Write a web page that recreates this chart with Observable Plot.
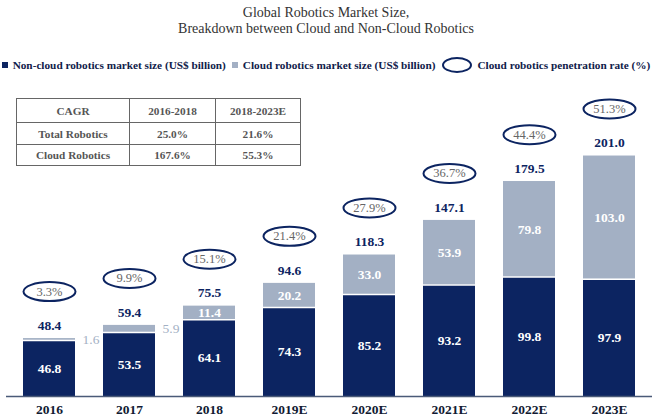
<!DOCTYPE html>
<html>
<head>
<meta charset="utf-8">
<script src="https://cdn.jsdelivr.net/npm/d3@7"></script>
<script src="https://cdn.jsdelivr.net/npm/@observablehq/plot@0.6"></script>
<style>
  html, body { margin: 0; padding: 0; background: #fff; }
  body { width: 652px; height: 418px; overflow: hidden; position: relative; font-family: "Liberation Serif", serif; }
  #title { position: absolute; left: 0; top: 5px; width: 652px; text-align: center; font-family: "Liberation Serif", serif; font-size: 14px; line-height: 16px; color: #333; }
  #legend { position: absolute; left: 0; top: 56px; width: 652px; display: flex; align-items: center; justify-content: center; font-family: "Liberation Serif", serif; font-size: 11.25px; font-weight: bold; color: #10204a; white-space: nowrap; }
  #legend .sw { display: inline-block; width: 6px; height: 6px; margin-right: 5px; }
  #legend .item { display: flex; align-items: center; margin: 0 3px; }
  #chart { position: absolute; left: 0; top: 80px; }
  #cagr { position: absolute; left: 16px; top: 98px; border-collapse: collapse; font-family: "Liberation Serif", serif; font-size: 11.25px; font-weight: bold; color: #555; }
  #cagr td { border: 1px solid #666; text-align: center; padding: 0; font-family: "Liberation Serif", serif; }
</style>
</head>
<body>
<div id="title"></div>
<div id="legend"></div>
<div id="chart"></div>
<table id="cagr"></table>
<script>
const years = ["2016", "2017", "2018", "2019E", "2020E", "2021E", "2022E", "2023E"];
const nonCloud = [46.8, 53.5, 64.1, 74.3, 85.2, 93.2, 99.8, 97.9];
const cloud = [1.6, 5.9, 11.4, 20.2, 33.0, 53.9, 79.8, 103.0];
const totals = [48.4, 59.4, 75.5, 94.6, 118.3, 147.1, 179.5, 201.0];
const penetration = [3.3, 9.9, 15.1, 21.4, 27.9, 36.7, 44.4, 51.3];
const titleLines = ["Global Robotics Market Size,", "Breakdown between Cloud and Non-Cloud Robotics"];
const legendLabels = ["Non-cloud robotics market size (US$ billion)", "Cloud robotics market size (US$ billion)", "Cloud robotics penetration rate (%)"];
const cagrHeader = ["CAGR", "2016-2018", "2018-2023E"];
const cagrRows = [["Total Robotics", "25.0%", "21.6%"], ["Cloud Robotics", "167.6%", "55.3%"]];

const NAVY = "#0c2461";
const LIGHT = "#a3b0c4";
const FONT = "Liberation Serif";

document.getElementById("title").innerHTML = titleLines.join("<br>");

const leg = document.getElementById("legend");
leg.innerHTML =
  `<span class="item"><span class="sw" style="background:${NAVY}"></span>${legendLabels[0]}</span>` +
  `<span class="item"><span class="sw" style="background:${LIGHT}"></span>${legendLabels[1]}</span>` +
  `<span class="item"><svg width="32" height="18" style="margin-right:4px"><ellipse cx="16" cy="9" rx="14" ry="7" fill="white" stroke="${NAVY}" stroke-width="2"/></svg>${legendLabels[2]}</span>`;

const tbl = document.getElementById("cagr");
const colW = [112, 85, 84];
const rowH = [24, 22, 21];
tbl.innerHTML = [cagrHeader, ...cagrRows].map((r, i) =>
  `<tr style="height:${rowH[i]}px">` + r.map((c, j) => `<td style="width:${colW[j]}px">${c}</td>`).join("") + `</tr>`
).join("");

const data = years.map((y, i) => ({
  year: y, nonCloud: nonCloud[i], cloud: cloud[i], total: totals[i], pen: penetration[i],
  top: nonCloud[i] + cloud[i]
}));

const ellipse = {
  draw(ctx, size) {
    const rx = 26, ry = 9.5, k = 0.5522848, kx = k * rx, ky = k * ry;
    ctx.moveTo(rx, 0);
    ctx.bezierCurveTo(rx, ky, kx, ry, 0, ry);
    ctx.bezierCurveTo(-kx, ry, -rx, ky, -rx, 0);
    ctx.bezierCurveTo(-rx, -ky, -kx, -ry, 0, -ry);
    ctx.bezierCurveTo(kx, -ry, rx, -ky, rx, 0);
    ctx.closePath();
  }
};

const chart = Plot.plot({
  width: 652,
  height: 338,
  marginLeft: 6,
  marginRight: 0,
  marginTop: 0,
  marginBottom: 22,
  style: `font-family: '${FONT}', serif; background: white;`,
  x: { type: "band", domain: years, paddingInner: 0.353, paddingOuter: 0.194, label: null },
  y: { domain: [0, 264], axis: null },
  marks: [
    Plot.barY(data, { x: "year", y1: 0, y2: "nonCloud", fill: NAVY }),
    Plot.barY(data, { x: "year", y1: "nonCloud", y2: "top", fill: LIGHT }),
    Plot.tickY(data, { x: "year", y: "nonCloud", stroke: "white", strokeWidth: 1.5 }),
    Plot.ruleY([0], { stroke: "#4a5a78", strokeWidth: 1.5 }),
    Plot.axisX({ tickSize: 0, tickPadding: 8, fontSize: 13.5, fontWeight: "bold", fill: "#111a33", fontFamily: FONT }),
    Plot.text(data, { x: "year", y: d => d.nonCloud / 2, text: d => d.nonCloud.toFixed(1), fill: "white", fontWeight: "bold", fontSize: 13.5, fontFamily: FONT }),
    Plot.text(data.filter(d => d.cloud >= 10), { x: "year", y: d => d.nonCloud + d.cloud / 2, text: d => d.cloud.toFixed(1), fill: "white", fontWeight: "bold", fontSize: 13.5, fontFamily: FONT }),
    Plot.text(data.filter(d => d.cloud < 10), { x: "year", y: d => d.nonCloud + d.cloud / 2, text: d => d.cloud.toFixed(1), fill: LIGHT, fontSize: 13.5, textAnchor: "start", dx: 33, fontFamily: FONT }),
    Plot.text(data, { x: "year", y: "total", text: d => d.total.toFixed(1), fill: NAVY, fontWeight: "bold", fontSize: 13.5, dy: -13, fontFamily: FONT }),
    Plot.dot(data, { x: "year", y: "total", symbol: ellipse, fill: "white", stroke: NAVY, strokeWidth: 2, dy: -47 }),
    Plot.text(data, { x: "year", y: "total", text: d => d.pen.toFixed(1) + "%", fill: "#666", fontSize: 12.5, dy: -47, fontFamily: FONT })
  ]
});
document.getElementById("chart").appendChild(chart);
</script>
</body>
</html>
